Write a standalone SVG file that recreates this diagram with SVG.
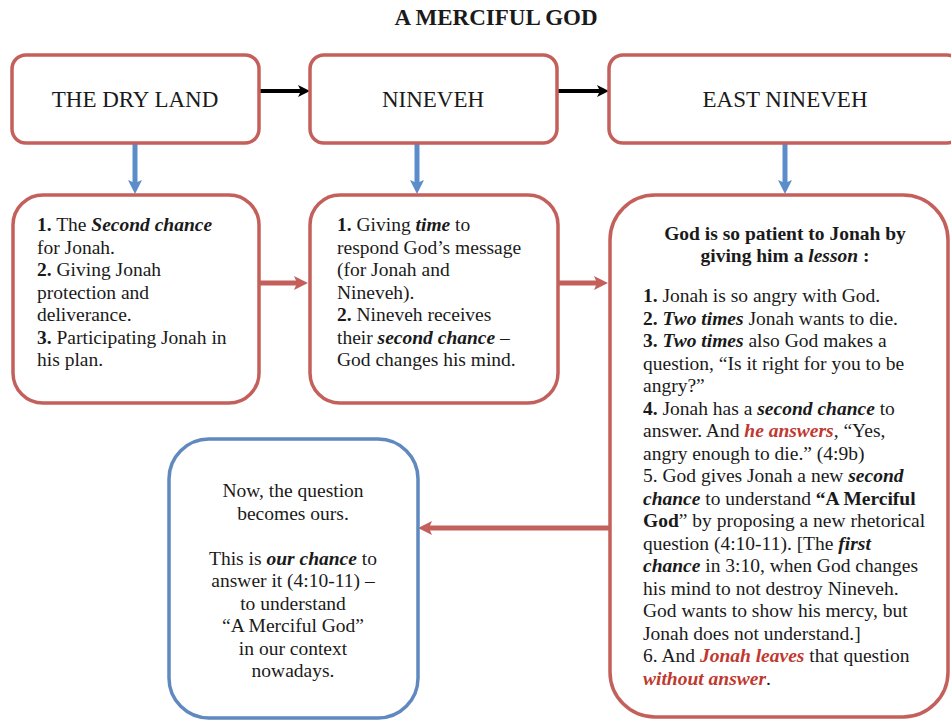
<svg xmlns="http://www.w3.org/2000/svg" width="951" height="722" viewBox="0 0 951 722" font-family="'Liberation Serif', 'Times New Roman', Times, 'DejaVu Serif', serif">
<style>
text{font-family:'Liberation Serif','Times New Roman',Times,'DejaVu Serif',serif;fill:#1a1a1a}
.title{font-size:23px;font-weight:bold}
.lbl{font-size:23px}
.body{font-size:19.5px}
.b{font-weight:bold}
.bi{font-weight:bold;font-style:italic}
.red{fill:#c0392f}
.rbox{fill:#fff;stroke:#c4605b;stroke-width:3.5}
.bbox{fill:#fff;stroke:#6089c0;stroke-width:3.5}
.blk{stroke:#000;stroke-width:4}
.blu{stroke:#5b8dcb;stroke-width:5}
.rd{stroke:#c4605b;stroke-width:5}
</style>
<defs>
<marker id="ahBlack" markerUnits="userSpaceOnUse" markerWidth="12" markerHeight="12" refX="4" refY="6" orient="auto"><path d="M0,0 L12,6 L0,12 L3,6 z" fill="#000"/></marker>
<marker id="ahBlue" markerUnits="userSpaceOnUse" markerWidth="14" markerHeight="14" refX="5" refY="7" orient="auto"><path d="M0,0 L14,7 L0,14 L3,7 z" fill="#5b8dcb"/></marker>
<marker id="ahRed" markerUnits="userSpaceOnUse" markerWidth="14" markerHeight="14" refX="5" refY="7" orient="auto"><path d="M0,0 L14,7 L0,14 L3,7 z" fill="#c4605b"/></marker>
</defs>
<rect width="951" height="722" fill="#fff"/>
<text class="title" x="496" y="25" text-anchor="middle">A MERCIFUL GOD</text>

<g id="connectors">
<line class="blk" x1="260" y1="91" x2="302" y2="91" marker-end="url(#ahBlack)"/>
<line class="blk" x1="558" y1="91" x2="601" y2="91" marker-end="url(#ahBlack)"/>
<line class="blu" x1="135" y1="144" x2="135" y2="185" marker-end="url(#ahBlue)"/>
<line class="blu" x1="417" y1="144" x2="417" y2="185" marker-end="url(#ahBlue)"/>
<line class="blu" x1="785" y1="144" x2="785" y2="185" marker-end="url(#ahBlue)"/>
<line class="rd" x1="259" y1="283" x2="299" y2="283" marker-end="url(#ahRed)"/>
<line class="rd" x1="558" y1="283" x2="599" y2="283" marker-end="url(#ahRed)"/>
<line class="rd" x1="610" y1="528" x2="427" y2="528" marker-end="url(#ahRed)"/>
</g>

<g id="dry-land">
<rect class="rbox" x="12" y="55" width="247" height="88" rx="14"/>
<text class="lbl" x="135" y="107" text-anchor="middle">THE DRY LAND</text>
</g>
<g id="nineveh">
<rect class="rbox" x="310" y="55" width="247" height="88" rx="14"/>
<text class="lbl" x="433" y="107" text-anchor="middle">NINEVEH</text>
</g>
<g id="east-nineveh">
<rect class="rbox" x="609" y="55" width="352" height="88" rx="14"/>
<text class="lbl" x="785" y="107" text-anchor="middle">EAST NINEVEH</text>
</g>

<g id="dry-land-detail">
<rect class="rbox" x="13" y="195" width="246" height="208" rx="30"/>
<text class="body" x="37" y="231"><tspan class="b">1.</tspan> The <tspan class="bi">Second chance</tspan></text>
<text class="body" x="37" y="253.5">for Jonah.</text>
<text class="body" x="37" y="276"><tspan class="b">2.</tspan> Giving Jonah</text>
<text class="body" x="37" y="298.5">protection and</text>
<text class="body" x="37" y="321">deliverance.</text>
<text class="body" x="37" y="343.5"><tspan class="b">3.</tspan> Participating Jonah in</text>
<text class="body" x="37" y="366">his plan.</text>
</g>

<g id="nineveh-detail">
<rect class="rbox" x="310" y="195" width="248" height="208" rx="30"/>
<text class="body" x="337" y="231"><tspan class="b">1.</tspan> Giving <tspan class="bi">time</tspan> to</text>
<text class="body" x="337" y="253.5">respond God’s message</text>
<text class="body" x="337" y="276">(for Jonah and</text>
<text class="body" x="337" y="298.5">Nineveh).</text>
<text class="body" x="337" y="321"><tspan class="b">2.</tspan> Nineveh receives</text>
<text class="body" x="337" y="343.5">their <tspan class="bi">second chance</tspan> –</text>
<text class="body" x="337" y="366">God changes his mind.</text>
</g>

<g id="east-nineveh-detail">
<rect class="rbox" x="610" y="195" width="338" height="522" rx="45"/>
<text class="body b" x="785" y="240" text-anchor="middle">God is so patient to Jonah by</text>
<text class="body b" x="785" y="262" text-anchor="middle">giving him a <tspan class="bi">lesson</tspan> :</text>
<text class="body" x="643" y="302"><tspan class="b">1.</tspan> Jonah is so angry with God.</text>
<text class="body" x="643" y="324.5"><tspan class="b">2.</tspan> <tspan class="bi">Two times</tspan> Jonah wants to die.</text>
<text class="body" x="643" y="347"><tspan class="b">3.</tspan> <tspan class="bi">Two times</tspan> also God makes a</text>
<text class="body" x="643" y="369.5">question, “Is it right for you to be</text>
<text class="body" x="643" y="392">angry?”</text>
<text class="body" x="643" y="414.5"><tspan class="b">4.</tspan> Jonah has a <tspan class="bi">second chance</tspan> to</text>
<text class="body" x="643" y="437">answer. And <tspan class="bi red">he answers</tspan>, “Yes,</text>
<text class="body" x="643" y="459.5">angry enough to die.” (4:9b)</text>
<text class="body" x="643" y="482">5. God gives Jonah a new <tspan class="bi">second</tspan></text>
<text class="body" x="643" y="504.5"><tspan class="bi">chance</tspan> to understand <tspan class="b">“A Merciful</tspan></text>
<text class="body" x="643" y="527"><tspan class="b">God</tspan>” by proposing a new rhetorical</text>
<text class="body" x="643" y="549.5">question (4:10-11). [The <tspan class="bi">first</tspan></text>
<text class="body" x="643" y="572"><tspan class="bi">chance</tspan> in 3:10, when God changes</text>
<text class="body" x="643" y="594.5">his mind to not destroy Nineveh.</text>
<text class="body" x="643" y="617">God wants to show his mercy, but</text>
<text class="body" x="643" y="639.5">Jonah does not understand.]</text>
<text class="body" x="643" y="662">6. And <tspan class="bi red">Jonah leaves</tspan> that question</text>
<text class="body" x="643" y="684.5"><tspan class="bi red">without answer</tspan>.</text>
</g>

<g id="our-chance">
<rect class="bbox" x="169" y="439" width="249" height="279" rx="40"/>
<text class="body" x="293" y="497" text-anchor="middle">Now, the question</text>
<text class="body" x="293" y="519.5" text-anchor="middle">becomes ours.</text>
<text class="body" x="293" y="564.5" text-anchor="middle">This is <tspan class="bi">our chance</tspan> to</text>
<text class="body" x="293" y="587" text-anchor="middle">answer it (4:10-11) –</text>
<text class="body" x="293" y="609.5" text-anchor="middle">to understand</text>
<text class="body" x="293" y="632" text-anchor="middle">“A Merciful God”</text>
<text class="body" x="293" y="654.5" text-anchor="middle">in our context</text>
<text class="body" x="293" y="677" text-anchor="middle">nowadays.</text>
</g>
</svg>
